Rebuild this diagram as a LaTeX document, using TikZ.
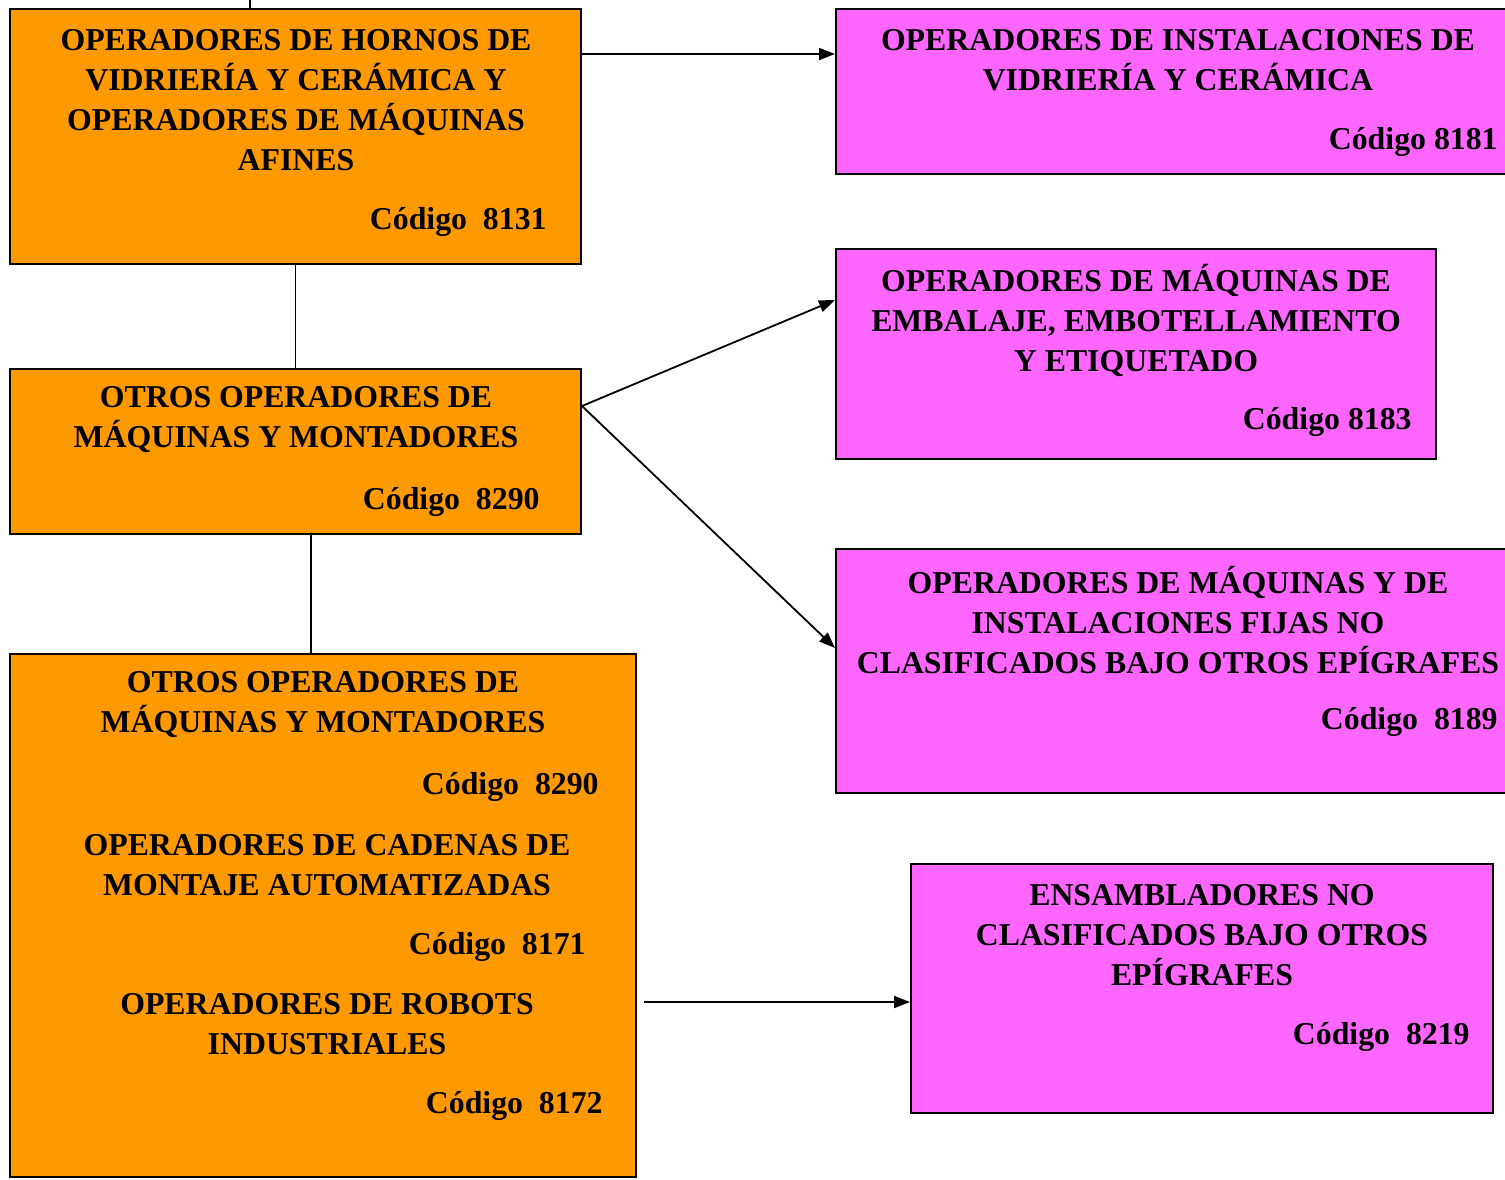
\documentclass[tikz,border=0pt]{standalone}
\usepackage{fontspec}
\setmainfont{Liberation Serif}
\usetikzlibrary{arrows.meta, positioning, calc}
\definecolor{naranja}{HTML}{FF9900}
\definecolor{rosa}{HTML}{FF66FF}
\tikzset{
  caja/.style={draw=black, line width=1pt, inner sep=0pt},
  cajaN/.style={caja, fill=naranja},
  cajaR/.style={caja, fill=rosa},
  txt/.style={font=\fontsize{15.9}{20}\selectfont\bfseries, align=center, inner sep=0pt},
  cod/.style={font=\fontsize{15.9}{20}\selectfont\bfseries, anchor=east, inner sep=0pt},
  flecha/.style={-{Triangle[length=8pt,width=6pt]}, line width=0.9pt},
  linea/.style={line width=0.8pt}
}
\begin{document}
\begin{tikzpicture}[x=0.5pt, y=-0.5pt]
\useasboundingbox (0,0) rectangle (1505,1179);
\clip (0,0) rectangle (1505,1179);
% cajas naranjas
\node[cajaN, minimum width=285.5pt, minimum height=127.5pt] (hornos) at (295.5,136.5) {};
\node[cajaN, minimum width=285.5pt, minimum height=82.5pt] (otros) at (295.5,451.5) {};
\node[cajaN, minimum width=313pt, minimum height=261.5pt] (grupo) at (323,915.5) {};
% cajas rosas
\node[cajaR, minimum width=340pt, minimum height=82.5pt] (vidrio) at (1176,91.5) {};
\node[cajaR, minimum width=300pt, minimum height=105pt] (embalaje) at (1136,354) {};
\node[cajaR, minimum width=340pt, minimum height=122pt] (fijas) at (1176,671) {};
\node[cajaR, minimum width=291pt, minimum height=124.5pt] (ensambla) at (1202,988.5) {};
% textos
\node[txt] (t1) at (296,100) {OPERADORES DE HORNOS DE\\VIDRIERÍA Y CERÁMICA Y\\OPERADORES DE MÁQUINAS\\AFINES};
\node[cod] (c1) at (547,222) {Código\ \ 8131};
\node[txt] (t2) at (296,420) {OTROS OPERADORES DE\\MÁQUINAS Y MONTADORES};
\node[cod] (c2) at (540,502) {Código\ \ 8290};
\node[txt] (t3) at (323,705) {OTROS OPERADORES DE\\MÁQUINAS Y MONTADORES};
\node[cod] (c3) at (599,787) {Código\ \ 8290};
\node[txt] (t4) at (327,865) {OPERADORES DE CADENAS DE\\MONTAJE AUTOMATIZADAS};
\node[cod] (c4) at (586,947) {Código\ \ 8171};
\node[txt] (t5) at (327,1024) {OPERADORES DE ROBOTS\\INDUSTRIALES};
\node[cod] (c5) at (603,1106) {Código\ \ 8172};
\node[txt] (t6) at (1178,60) {OPERADORES DE INSTALACIONES DE\\VIDRIERÍA Y CERÁMICA};
\node[cod] (c6) at (1498,142) {Código 8181};
\node[txt] (t7) at (1136,320) {OPERADORES DE MÁQUINAS DE\\EMBALAJE, EMBOTELLAMIENTO\\Y ETIQUETADO};
\node[cod] (c7) at (1412,422) {Código 8183};
\node[txt] (t8) at (1178,620) {OPERADORES DE MÁQUINAS Y DE\\INSTALACIONES FIJAS NO\\CLASIFICADOS BAJO OTROS EPÍGRAFES};
\node[cod] (c8) at (1498,722) {Código\ \ 8189};
\node[txt] (t9) at (1202,935) {ENSAMBLADORES NO\\CLASIFICADOS BAJO OTROS\\EPÍGRAFES};
\node[cod] (c9) at (1470,1037) {Código\ \ 8219};
% conexiones
\coordinate (arriba) at (250,0);
\coordinate (salida) at (644,1002);
\draw[linea] (arriba) -- (arriba |- hornos.north);
\draw[linea] (hornos.south) -- (otros.north);
\draw[linea] (otros.south -| 311,0) -- (grupo.north -| 311,0);
\draw[flecha] (hornos.east |- 0,54) -- (vidrio.west |- 0,54);
\draw[flecha] (otros.east |- 0,406) -- (embalaje.west |- 0,300);
\draw[flecha] (otros.east |- 0,406) -- (fijas.west |- 0,648);
\draw[flecha] (salida) -- (salida -| ensambla.west);
\end{tikzpicture}
\end{document}
